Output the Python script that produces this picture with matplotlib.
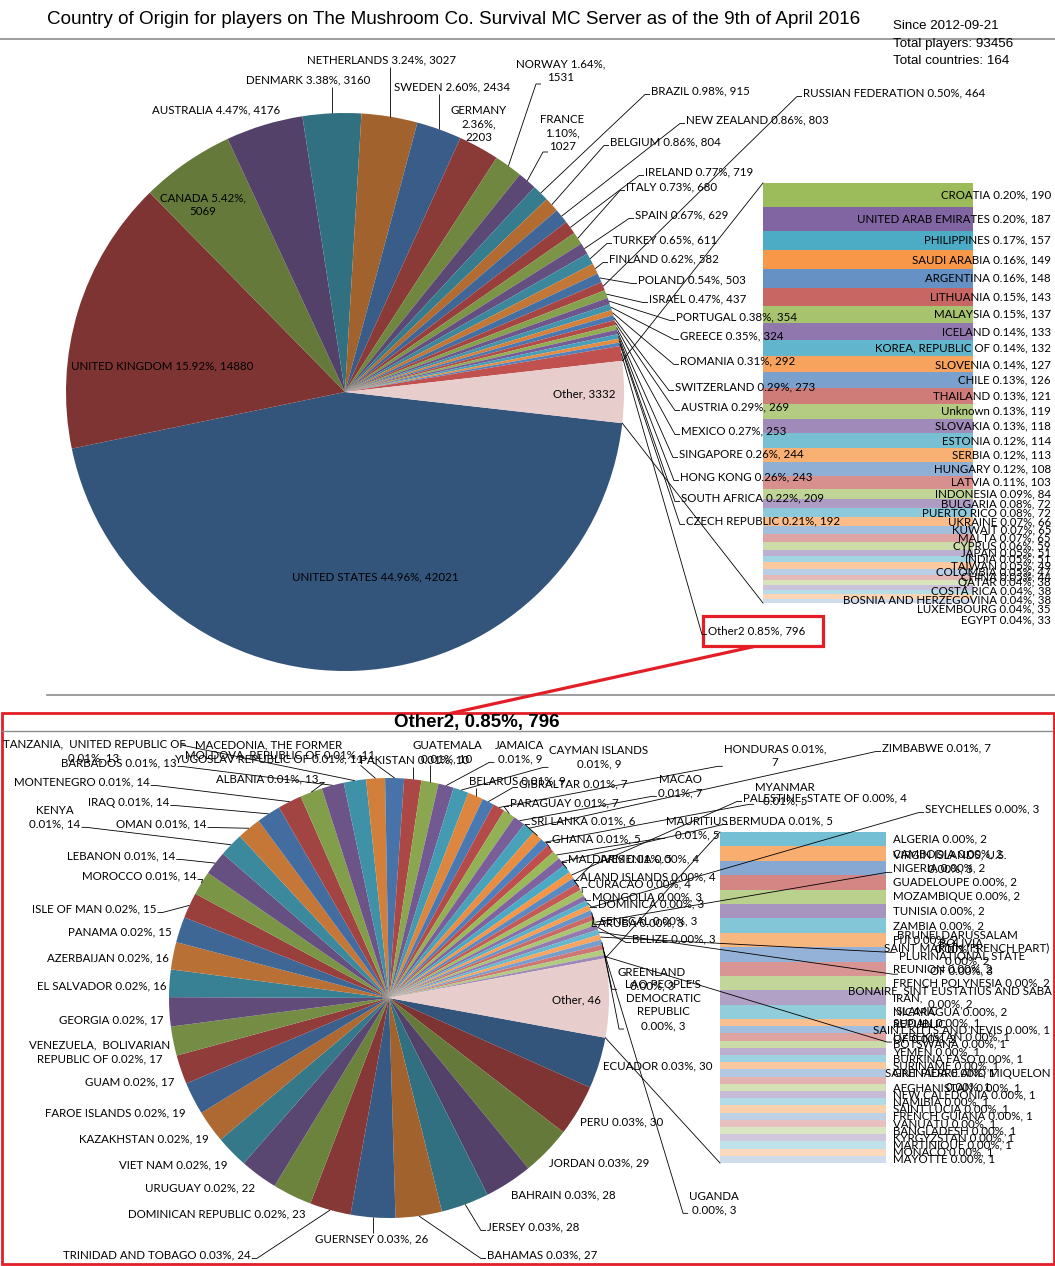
import numpy as np
import matplotlib
matplotlib.use("Agg")
import matplotlib.pyplot as plt
from matplotlib.patches import Rectangle

# ------------------------------------------------------------------ data
TOTAL_PLAYERS = 93456
TOTAL_COUNTRIES = 164
SINCE = "2012-09-21"
TITLE = "Country of Origin for players on The Mushroom Co. Survival MC Server as of the 9th of April 2016"

main_names = ["UNITED STATES", "UNITED KINGDOM", "CANADA", "AUSTRALIA", "DENMARK", "NETHERLANDS",
              "SWEDEN", "GERMANY", "NORWAY", "FRANCE", "BRAZIL", "BELGIUM", "NEW ZEALAND", "IRELAND",
              "ITALY", "SPAIN", "TURKEY", "FINLAND", "POLAND", "RUSSIAN FEDERATION", "ISRAEL",
              "PORTUGAL", "GREECE", "ROMANIA", "SWITZERLAND", "AUSTRIA", "MEXICO", "SINGAPORE",
              "HONG KONG", "SOUTH AFRICA", "CZECH REPUBLIC", "Other2"]
main_values = [42021, 14880, 5069, 4176, 3160, 3027, 2434, 2203, 1531, 1027, 915, 804, 803, 719,
               680, 629, 611, 582, 503, 464, 437, 354, 324, 292, 273, 269, 253, 244, 243, 209, 192, 796]

other1_names = ["CROATIA", "UNITED ARAB EMIRATES", "PHILIPPINES", "SAUDI ARABIA", "ARGENTINA",
                "LITHUANIA", "MALAYSIA", "ICELAND", "KOREA, REPUBLIC OF", "SLOVENIA", "CHILE",
                "THAILAND", "Unknown", "SLOVAKIA", "ESTONIA", "SERBIA", "HUNGARY", "LATVIA",
                "INDONESIA", "BULGARIA", "PUERTO RICO", "UKRAINE", "KUWAIT", "MALTA", "CYPRUS",
                "JAPAN", "INDIA", "TAIWAN", "COLOMBIA", "CHINA", "QATAR", "COSTA RICA",
                "BOSNIA AND HERZEGOVINA", "LUXEMBOURG", "EGYPT"]
other1_values = [190, 187, 157, 149, 148, 143, 137, 133, 132, 127, 126, 121, 119, 118, 114, 113,
                 108, 103, 84, 72, 72, 66, 65, 65, 59, 51, 51, 49, 47, 44, 38, 38, 38, 35, 33]

sub_names = ["ECUADOR", "PERU", "JORDAN", "BAHRAIN", "JERSEY", "BAHAMAS", "GUERNSEY",
             "TRINIDAD AND TOBAGO", "DOMINICAN REPUBLIC", "URUGUAY", "VIET NAM", "KAZAKHSTAN",
             "FAROE ISLANDS", "GUAM", "VENEZUELA, BOLIVARIAN REPUBLIC OF", "GEORGIA", "EL SALVADOR",
             "AZERBAIJAN", "PANAMA", "ISLE OF MAN", "MOROCCO", "LEBANON", "KENYA", "OMAN", "IRAQ",
             "MONTENEGRO", "ALBANIA", "BARBADOS", "TANZANIA, UNITED REPUBLIC OF",
             "MACEDONIA, THE FORMER YUGOSLAV REPUBLIC OF", "MOLDOVA, REPUBLIC OF", "PAKISTAN",
             "GUATEMALA", "JAMAICA", "CAYMAN ISLANDS", "BELARUS", "GIBRALTAR", "HONDURAS",
             "PARAGUAY", "MACAO", "ZIMBABWE", "SRI LANKA", "MYANMAR", "GHANA", "MAURITIUS",
             "BERMUDA", "MALDIVES", "PALESTINE, STATE OF", "ARMENIA", "ALAND ISLANDS", "CURACAO",
             "MONGOLIA", "DOMINICA", "SEYCHELLES", "SENEGAL", "ARUBA", "VIRGIN ISLANDS, U.S.",
             "BELIZE", "BOLIVIA, PLURINATIONAL STATE OF", "BRUNEI DARUSSALAM", "GREENLAND",
             "LAO PEOPLE'S DEMOCRATIC REPUBLIC", "UGANDA", "IRAN, ISLAMIC REPUBLIC OF"]
sub_values = [30, 30, 29, 28, 28, 27, 26, 24, 23, 22, 19, 19, 19, 17, 17, 17, 16, 16, 15, 15,
              14, 14, 14, 14, 14, 14, 13, 13, 13, 11, 11, 10, 10, 9, 9, 9, 7, 7, 7, 7, 7, 6,
              5, 5, 5, 5, 5, 4, 4, 4, 4, 3, 3, 3, 3, 3, 3, 3, 3, 3, 3, 3, 3, 2]

other2_names = ["ALGERIA", "CAMBODIA", "NIGERIA", "GUADELOUPE", "MOZAMBIQUE", "TUNISIA", "ZAMBIA",
                "FIJI", "SAINT MARTIN (FRENCH PART)", "REUNION", "FRENCH POLYNESIA",
                "BONAIRE, SINT EUSTATIUS AND SABA", "NICARAGUA", "SUDAN", "SAINT KITTS AND NEVIS",
                "UZBEKISTAN", "BOTSWANA", "YEMEN", "BURKINA FASO", "SURINAME", "GRENADA",
                "SAINT PIERRE AND MIQUELON", "AFGHANISTAN", "NEW CALEDONIA", "NAMIBIA",
                "SAINT LUCIA", "FRENCH GUIANA", "VANUATU", "BANGLADESH", "KYRGYZSTAN",
                "MARTINIQUE", "MONACO", "MAYOTTE"]
other2_values = [2, 2, 2, 2, 2, 2, 2, 2, 2, 2, 2, 2, 2, 1, 1, 1, 1, 1, 1, 1, 1, 1, 1, 1, 1, 1,
                 1, 1, 1, 1, 1, 1, 1]

# ------------------------------------------------------------------ styles / layout
W, H = 1055, 1266
LBL_FONT = ["Lato", "DejaVu Sans"]
FS = 8.3
OTHER_COLOR = "#E8CDCD"
RED = "#E31E26"
HEAD_FONT = ["Liberation Sans Narrow", "Liberation Sans", "DejaVu Sans"]
BASE = np.array([[79, 129, 189], [192, 80, 77], [155, 187, 89],
                 [128, 100, 162], [75, 172, 198], [247, 150, 70]]) / 255.0


def excel_color(i, n_total):
    ncyc = (n_total + 5) // 6
    k = i // 6
    t = k / max(ncyc - 1, 1)
    b = BASE[i % 6]
    if t < 0.45:
        return tuple(b * (0.65 + 0.35 * t / 0.45))
    tint = 0.72 * (t - 0.45) / 0.55
    return tuple(b + (1 - b) * tint)


WRAP = {
    "MACEDONIA, THE FORMER YUGOSLAV REPUBLIC OF": "MACEDONIA, THE FORMER\nYUGOSLAV REPUBLIC OF",
    "VENEZUELA, BOLIVARIAN REPUBLIC OF": "VENEZUELA,  BOLIVARIAN\nREPUBLIC OF",
    "LAO PEOPLE'S DEMOCRATIC REPUBLIC": "LAO PEOPLE'S\nDEMOCRATIC\nREPUBLIC",
    "BOLIVIA, PLURINATIONAL STATE OF": "BOLIVIA,\nPLURINATIONAL STATE\nOF",
    "IRAN, ISLAMIC REPUBLIC OF": "IRAN,\nISLAMIC\nREPUBLIC\nOF",
    "TANZANIA, UNITED REPUBLIC OF": "TANZANIA,  UNITED REPUBLIC OF",
}


def fmt_label(name, v, style="s"):
    n = WRAP.get(name, name)
    p = f"{100 * v / TOTAL_PLAYERS:.2f}%"
    if style == "n":
        return f"{n}\n{p}, {v}"
    if style == "v":
        return f"{n} {p},\n{v}"
    if style == "g":
        return f"{n}\n{p},\n{v}"
    return f"{n} {p}, {v}"


# label placement: x, y (pixel, y down), ha, leader anchor, format
main_lbl = {
    "UNITED STATES": (375, 577, "center", None, "s"),
    "UNITED KINGDOM": (71, 366, "left", None, "s"),
    "CANADA": (203, 205, "center", None, "v"),
    "AUSTRALIA": (152, 110, "left", None, "s"),
    "DENMARK": (246, 80, "left", "b", "s"),
    "NETHERLANDS": (307, 60, "left", "b", "s"),
    "SWEDEN": (394, 87, "left", "b", "s"),
    "GERMANY": (479, 124, "center", None, "g"),
    "NORWAY": (561, 71, "center", (541, 84), "v"),
    "FRANCE": (562, 133, "center", (548, 152), "g"),
    "BRAZIL": (651, 91, "left", "l", "s"),
    "BELGIUM": (610, 142, "left", "l", "s"),
    "NEW ZEALAND": (686, 120, "left", "l", "s"),
    "IRELAND": (645, 172, "left", "l", "s"),
    "ITALY": (626, 187, "left", "l", "s"),
    "SPAIN": (635, 215, "left", "l", "s"),
    "TURKEY": (613, 240, "left", "l", "s"),
    "FINLAND": (609, 259, "left", "l", "s"),
    "POLAND": (638, 280, "left", "l", "s"),
    "RUSSIAN FEDERATION": (803, 93, "left", "l", "s"),
    "ISRAEL": (649, 299, "left", "l", "s"),
    "PORTUGAL": (676, 317, "left", "l", "s"),
    "GREECE": (680, 336, "left", "l", "s"),
    "ROMANIA": (680, 361, "left", "l", "s"),
    "SWITZERLAND": (675, 387, "left", "l", "s"),
    "AUSTRIA": (681, 407, "left", "l", "s"),
    "MEXICO": (681, 431, "left", "l", "s"),
    "SINGAPORE": (679, 454, "left", "l", "s"),
    "HONG KONG": (680, 477, "left", "l", "s"),
    "SOUTH AFRICA": (681, 498, "left", "l", "s"),
    "CZECH REPUBLIC": (686, 521, "left", "l", "s"),
    "Other2": (708, 631, "left", "l", "s"),
}

sub_lbl = {
    "ECUADOR": (603, 1066, "left", None, "s"),
    "PERU": (580, 1122, "left", None, "s"),
    "JORDAN": (549, 1163, "left", None, "s"),
    "BAHRAIN": (511, 1195, "left", None, "s"),
    "JERSEY": (487, 1227, "left", "l", "s"),
    "BAHAMAS": (487, 1255, "left", "l", "s"),
    "GUERNSEY": (315, 1239, "left", "t", "s"),
    "TRINIDAD AND TOBAGO": (63, 1255, "left", "r", "s"),
    "DOMINICAN REPUBLIC": (128, 1214, "left", None, "s"),
    "URUGUAY": (145, 1188, "left", None, "s"),
    "VIET NAM": (119, 1165, "left", None, "s"),
    "KAZAKHSTAN": (79, 1139, "left", None, "s"),
    "FAROE ISLANDS": (45, 1113, "left", None, "s"),
    "GUAM": (85, 1082, "left", None, "s"),
    "VENEZUELA, BOLIVARIAN REPUBLIC OF": (100, 1052, "center", None, "s"),
    "GEORGIA": (59, 1020, "left", None, "s"),
    "EL SALVADOR": (37, 986, "left", None, "s"),
    "AZERBAIJAN": (47, 958, "left", None, "s"),
    "PANAMA": (68, 932, "left", None, "s"),
    "ISLE OF MAN": (32, 909, "left", "r", "s"),
    "MOROCCO": (82, 876, "left", "r", "s"),
    "LEBANON": (67, 856, "left", "r", "s"),
    "KENYA": (55, 817, "center", "r", "n"),
    "OMAN": (116, 824, "left", "r", "s"),
    "IRAQ": (88, 802, "left", "r", "s"),
    "MONTENEGRO": (14, 782, "left", "r", "s"),
    "ALBANIA": (216, 779, "left", "r", "s"),
    "BARBADOS": (61, 763, "left", "r", "s"),
    "TANZANIA, UNITED REPUBLIC OF": (94, 751, "center", (186, 745), "n"),
    "MACEDONIA, THE FORMER YUGOSLAV REPUBLIC OF": (269, 752, "center", "b", "s"),
    "MOLDOVA, REPUBLIC OF": (185, 755, "left", "b", "s"),
    "PAKISTAN": (360, 760, "left", "b", "s"),
    "GUATEMALA": (447, 752, "center", "b", "n"),
    "JAMAICA": (520, 752, "center", "l", "n"),
    "CAYMAN ISLANDS": (599, 757, "center", "l", "n"),
    "BELARUS": (469, 781, "left", "b", "s"),
    "GIBRALTAR": (519, 784, "left", "l", "s"),
    "HONDURAS": (775, 756, "center", "l", "v"),
    "PARAGUAY": (510, 803, "left", "l", "s"),
    "MACAO": (680, 786, "center", "l", "n"),
    "ZIMBABWE": (882, 748, "left", "l", "s"),
    "SRI LANKA": (531, 821, "left", "l", "s"),
    "MYANMAR": (785, 794, "center", "l", "n"),
    "GHANA": (552, 839, "left", "l", "s"),
    "MAURITIUS": (697, 828, "center", "l", "n"),
    "BERMUDA": (729, 821, "left", "l", "s"),
    "MALDIVES": (568, 859, "left", "l", "s"),
    "PALESTINE, STATE OF": (743, 798, "left", "l", "s"),
    "ARMENIA": (600, 859, "left", "l", "s"),
    "ALAND ISLANDS": (580, 877, "left", "l", "s"),
    "CURACAO": (588, 884, "left", "l", "s"),
    "MONGOLIA": (592, 897, "left", "l", "s"),
    "DOMINICA": (598, 904, "left", "l", "s"),
    "SEYCHELLES": (925, 809, "left", "l", "s"),
    "SENEGAL": (600, 921, "left", "l", "s"),
    "ARUBA": (598, 923, "left", "l", "s"),
    "VIRGIN ISLANDS, U.S.": (950, 862, "center", "l", "n"),
    "BELIZE": (632, 939, "left", "l", "s"),
    "BOLIVIA, PLURINATIONAL STATE OF": (962, 957, "center", "l", "s"),
    "BRUNEI DARUSSALAM": (957, 942, "center", "l", "n"),
    "GREENLAND": (652, 979, "center", "l", "n"),
    "LAO PEOPLE'S DEMOCRATIC REPUBLIC": (663, 1005, "center", "l", "n"),
    "UGANDA": (714, 1203, "center", "l", "n"),
    "IRAN, ISLAMIC REPUBLIC OF": (893, 1018, "left", "l", "s"),
}

bar1_shift = {"COSTA RICA": 4, "BOSNIA AND HERZEGOVINA": 8, "LUXEMBOURG": 12, "EGYPT": 19}
bar2_style = {"SAINT MARTIN (FRENCH PART)": ("center", 967, "n"),
              "BONAIRE, SINT EUSTATIUS AND SABA": ("center", 950, "n"),
              "SAINT PIERRE AND MIQUELON": ("center", 968, "n"),
              "SAINT KITTS AND NEVIS": ("right", 1050, "s")}

# ------------------------------------------------------------------ figure
fig = plt.figure(figsize=(W / 100, H / 100), dpi=100)


def px_axes(x0, y0, x1, y1):
    return fig.add_axes([x0 / W, 1 - y1 / H, (x1 - x0) / W, (y1 - y0) / H])


def draw_pie(cx, cy, r, values, other_value, n_total):
    ax = px_axes(cx - r, cy - r, cx + r, cy + r)
    vals = list(values) + [other_value]
    cols = [excel_color(i, n_total) for i in range(len(values))] + [OTHER_COLOR]
    start = -0.5 * 360.0 * other_value / sum(vals)
    wedges, _ = ax.pie(vals, colors=cols, startangle=start, counterclock=False,
                       radius=1.0, wedgeprops=dict(linewidth=0, antialiased=True))
    ax.set_xlim(-1, 1)
    ax.set_ylim(-1, 1)
    ax.set_aspect("auto")
    ax.axis("off")
    return ax, wedges


def draw_bar(x0, y0, x1, y1, values, first_index, n_total):
    ax = px_axes(x0, y0, x1, y1)
    bottoms = np.concatenate([[0], np.cumsum(values)[:-1]])
    cols = [excel_color(first_index + i, n_total) for i in range(len(values))]
    ax.bar(np.zeros(len(values)), values, bottom=bottoms, width=1.0, color=cols, linewidth=0)
    ax.set_xlim(-0.5, 0.5)
    ax.set_ylim(sum(values), 0)
    ax.axis("off")
    return ax, bottoms


n_top = len(main_values) + len(other1_values)
n_bot = len(sub_values) + len(other2_values)
pie1, w1 = draw_pie(345, 392, 279, main_values, sum(other1_values), n_top)
bar1, b1 = draw_bar(763, 183, 973, 603, other1_values, len(main_values), n_top)
pie2, w2 = draw_pie(389, 998, 220, sub_values, sum(other2_values), n_bot)
bar2, b2 = draw_bar(720, 832, 886, 1163, other2_values, len(sub_values), n_bot)

bg = fig.add_axes([0, 0, 1, 1])
bg.set_xlim(0, W)
bg.set_ylim(H, 0)
bg.axis("off")
renderer = fig.canvas.get_renderer()


def to_bg(ax, xy):
    return bg.transData.inverted().transform(ax.transData.transform(xy))


def pie_pt(ax, ang):
    a = np.radians(ang)
    return to_bg(ax, (np.cos(a), np.sin(a)))


def text_bbox(t):
    bb = t.get_window_extent(renderer)
    (xa, ya), (xb, yb) = bg.transData.inverted().transform([[bb.x0, bb.y0], [bb.x1, bb.y1]])
    return min(xa, xb), max(xa, xb), min(ya, yb), max(ya, yb)


def leader(t, anchor, p):
    x0, x1, top, bot = text_bbox(t)
    if isinstance(anchor, tuple):
        ax_, ay_ = anchor
        xs, ys = [ax_, ax_ - 5, p[0]], [ay_, ay_, p[1]]
    elif anchor == "l":
        ay_ = bot - 2
        xs, ys = [x0 - 1, x0 - 6, p[0]], [ay_, ay_, p[1]]
    elif anchor == "r":
        ay_ = bot - 2
        xs, ys = [x1 + 1, x1 + 6, p[0]], [ay_, ay_, p[1]]
    elif anchor == "b":
        ax_ = min(max(p[0], x0 + 3), x1 - 3)
        xs, ys = [ax_, p[0]], [bot + 1, p[1]]
    else:  # 't'
        ax_ = min(max(p[0], x0 + 3), x1 - 3)
        xs, ys = [ax_, p[0]], [top - 1, p[1]]
    bg.plot(xs, ys, color="black", lw=0.6, solid_capstyle="butt")


def pie_labels(ax, wedges, names, values, spec):
    for w, name, v in zip(wedges, names, values):
        if name not in spec:
            continue
        x, y, ha, anchor, style = spec[name]
        t = bg.text(x, y, fmt_label(name, v, style), ha=ha, va="center", fontsize=FS,
                    family=LBL_FONT, linespacing=1.3, color="black")
        if anchor is not None:
            mid = 0.5 * (w.theta1 + w.theta2)
            leader(t, anchor, pie_pt(ax, mid))


pie_labels(pie1, w1, main_names, main_values, main_lbl)
pie_labels(pie2, w2, sub_names, sub_values, sub_lbl)

# "Other" slice labels
bg.text(553, 394, f"Other, {sum(other1_values)}", ha="left", va="center", fontsize=FS, family=LBL_FONT)
bg.text(552, 1000, f"Other, {sum(other2_values)}", ha="left", va="center", fontsize=FS, family=LBL_FONT)

# bar labels (top: inside, right aligned)
for name, v, b in zip(other1_names, other1_values, b1):
    y = to_bg(bar1, (0, b + v / 2))[1] + bar1_shift.get(name, 0)
    bg.text(1051, y, fmt_label(name, v), ha="right", va="center", fontsize=FS, family=LBL_FONT)

# bar labels (bottom: outside, left aligned)
for name, v, b in zip(other2_names, other2_values, b2):
    y = to_bg(bar2, (0, b + v / 2))[1]
    ha, x, style = bar2_style.get(name, ("left", 893, "s"))
    bg.text(x, y, fmt_label(name, v, style), ha=ha, va="center", fontsize=FS, family=LBL_FONT,
            linespacing=1.25)

# bar-of-pie connectors
for pie, wedges, bar, tot in [(pie1, w1, bar1, sum(other1_values)), (pie2, w2, bar2, sum(other2_values))]:
    ow = wedges[-1]
    hi = max(ow.theta1, ow.theta2)
    lo = min(ow.theta1, ow.theta2)
    p_hi, p_lo = pie_pt(pie, hi), pie_pt(pie, lo)
    c_top, c_bot = to_bg(bar, (-0.5, 0)), to_bg(bar, (-0.5, tot))
    bg.plot([p_hi[0], c_top[0]], [p_hi[1], c_top[1]], color="black", lw=0.6)
    bg.plot([p_lo[0], c_bot[0]], [p_lo[1], c_bot[1]], color="black", lw=0.6)

# titles, info text, frame lines
bg.text(454, 20, TITLE, ha="center", va="center", fontsize=13.6, family=HEAD_FONT)
info = [f"Since {SINCE}", f"Total players: {TOTAL_PLAYERS}", f"Total countries: {TOTAL_COUNTRIES}"]
for i, s in enumerate(info):
    bg.text(893, 26 + 17.5 * i, s, ha="left", va="center", fontsize=9.6, family=HEAD_FONT)
bg.plot([0, W], [39, 39], color="#8C8C8C", lw=1.2)
bg.plot([47, W], [695, 695], color="#8C8C8C", lw=1.2)

o2 = main_values[main_names.index("Other2")]
bg.text(477, 723, f"Other2, {100 * o2 / TOTAL_PLAYERS:.2f}%, {o2}", ha="center", va="center",
        fontsize=13.5, fontweight="bold", family=["Liberation Sans", "DejaVu Sans"])
bg.plot([2, 1052], [731, 731], color="#8C8C8C", lw=1.0)

bg.add_patch(Rectangle((703, 616), 120, 30, fill=False, edgecolor=RED, lw=2.3))
bg.plot([752, 452], [647, 713], color=RED, lw=2.3)
bg.add_patch(Rectangle((1.5, 713), 1052, 551, fill=False, edgecolor=RED, lw=2.0))

fig.savefig("out.png", dpi=100)
